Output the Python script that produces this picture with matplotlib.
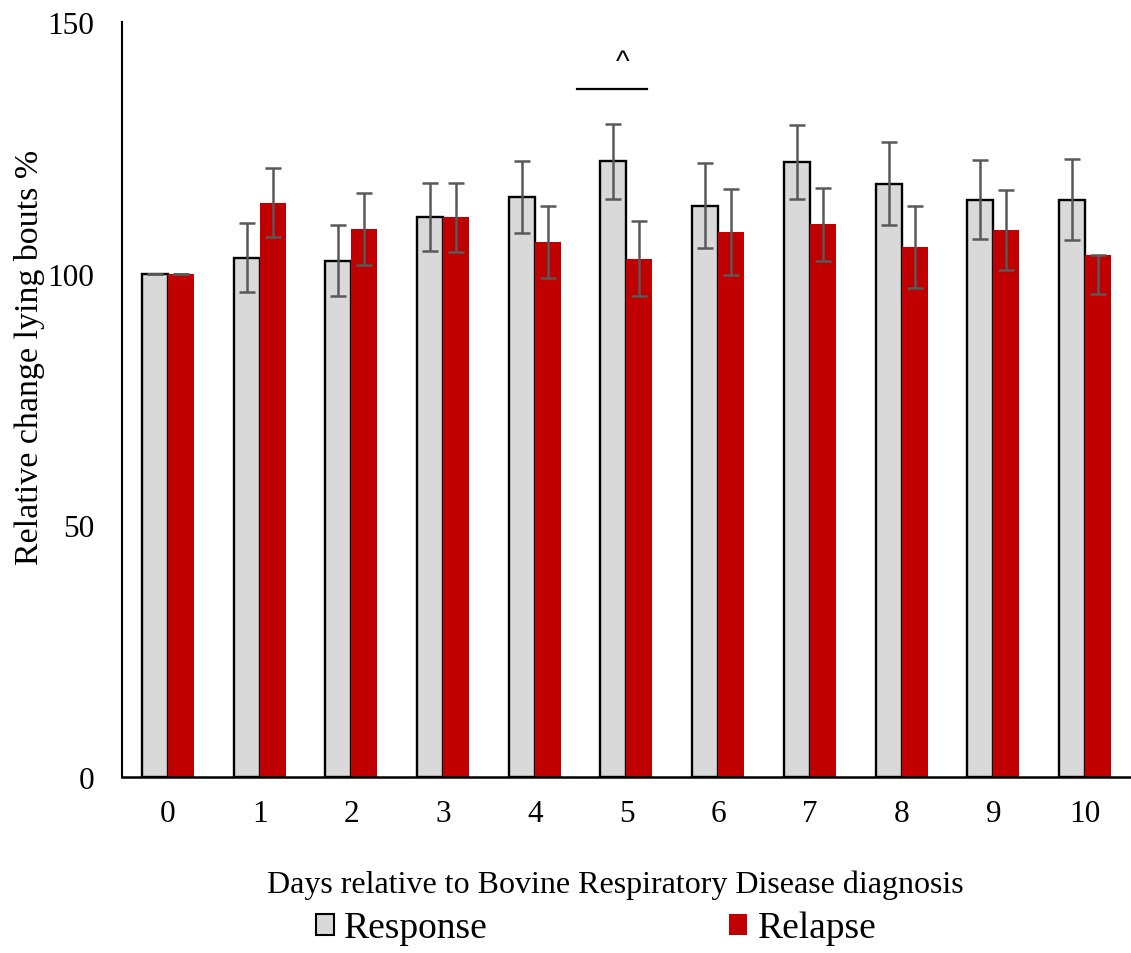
import numpy as np
import matplotlib
matplotlib.use('Agg')
import matplotlib.pyplot as plt
from matplotlib.patches import Patch

plt.rcParams['font.family'] = ['Liberation Serif', 'DejaVu Serif']

days = [0, 1, 2, 3, 4, 5, 6, 7, 8, 9, 10]
response = [100, 103.2, 102.6, 111.3, 115.2, 122.3, 113.5, 122.2, 117.9, 114.7, 114.7]
response_err = [0, 6.9, 7.1, 6.8, 7.1, 7.5, 8.5, 7.3, 8.2, 7.8, 8.0]
relapse = [100, 114.1, 108.9, 111.2, 106.3, 103.0, 108.3, 109.8, 105.3, 108.7, 103.8]
relapse_err_lo = [0, 6.9, 7.1, 6.8, 7.1, 7.5, 8.5, 7.3, 8.2, 7.9, 7.9]
relapse_err_hi = [0, 6.9, 7.1, 6.8, 7.1, 7.5, 8.5, 7.3, 8.2, 7.9, 0]

fig = plt.figure(figsize=(11.31, 9.54), dpi=100)
ax = fig.add_axes([0.1079, 0.1845, 0.892, 0.7914])

x = np.arange(len(days))
w = 0.2835
ax.bar(x - w/2, response, w, color='#D9D9D9', edgecolor='black', linewidth=1.7, zorder=2)
ax.bar(x + w/2, relapse, w, color='#C00000', zorder=2)

errc = '#595959'
ax.errorbar(x - w/2, response, yerr=response_err, fmt='none', ecolor=errc,
            elinewidth=1.8, capsize=6, capthick=1.8, zorder=3)
ax.errorbar(x + w/2, relapse, yerr=[relapse_err_lo, relapse_err_hi], fmt='none',
            ecolor=errc, elinewidth=1.8, capsize=6, capthick=1.8, zorder=3)

# significance marker over day 5
ax.plot([4.46, 5.22], [136.7, 136.7], color='black', lw=1.6, clip_on=False)
ax.text(4.96, 142.0, '^', ha='center', va='center', fontsize=21, family='Liberation Sans')

ax.set_xlim(-0.5, 10.5)
ax.set_ylim(0, 150)
ax.set_yticks([0, 50, 100, 150])
ax.set_xticks(x)
ax.set_xticklabels([str(d) for d in days])
ax.tick_params(axis='both', length=0, labelsize=22.5)
ax.tick_params(axis='y', pad=20)
ax.tick_params(axis='x', pad=16)
for s in ['top', 'right']:
    ax.spines[s].set_visible(False)
ax.spines['left'].set_linewidth(1.5)
ax.spines['bottom'].set_linewidth(1.8)

ax.set_xlabel('Days relative to Bovine Respiratory Disease diagnosis', fontsize=23)
ax.xaxis.set_label_coords(0.489, -0.142)
ax.xaxis.label.set_va('center')
fig.text(0.026, 0.625, 'Relative change lying bouts %', rotation=90, ha='center', va='center', fontsize=24.5)

handles = [Patch(facecolor='#D9D9D9', edgecolor='black', linewidth=1.5, label='Response'),
           Patch(facecolor='#C00000', label='Relapse')]
fig.legend(handles=handles, loc='center', bbox_to_anchor=(0.527, 0.026), ncol=2, frameon=False,
           fontsize=27, handlelength=0.48, handleheight=0.48, handletextpad=0.27,
           columnspacing=6.45, borderpad=0)

fig.savefig('out.png', dpi=100)
